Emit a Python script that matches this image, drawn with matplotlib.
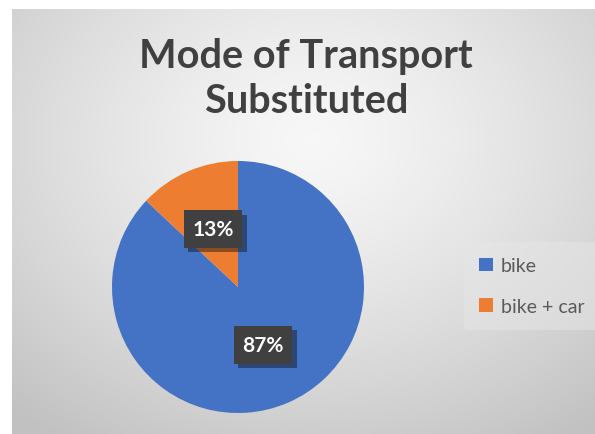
import numpy as np
import matplotlib.pyplot as plt
import matplotlib.patheffects as pe
from matplotlib.patches import Patch

labels = ['bike', 'bike + car']
values = [87, 13]
colors = ['#4472c4', '#ed7d31']
title = 'Mode of Transport\nSubstituted'

W, H = 595, 435
fig = plt.figure(figsize=(W / 100, H / 100), dpi=100)
fig.patch.set_facecolor('white')

# gradient background of the chart area
bg = fig.add_axes([12 / W, 0, (W - 12) / W, (H - 10) / H])
yy, xx = np.mgrid[0:425, 0:583]
d = np.sqrt(((xx - 300) / 420.0) ** 2 + ((yy - 130) / 330.0) ** 2)
shade = np.clip(0.97 - 0.19 * d ** 1.3, 0.76, 0.97)
bg.imshow(np.dstack([shade] * 3), aspect='auto', interpolation='bilinear')
bg.axis('off')

fig.text(306 / W, 1 - 79 / H, title, ha='center', va='center',
         fontsize=28.5, fontweight='bold', color='#404040',
         family='Lato', linespacing=1.25)

r = 126
cx, cy = 238, 288
ax = fig.add_axes([(cx - r) / W, 1 - (cy + r) / H, 2 * r / W, 2 * r / H])
ax.set_facecolor('none')
wedges, texts, autotexts = ax.pie(values, colors=colors, startangle=90,
                                  counterclock=False, autopct='%1.0f%%',
                                  pctdistance=0.5, radius=1,
                                  wedgeprops=dict(linewidth=0))
for t in autotexts:
    t.set_color('white')
    t.set_fontsize(15)
    t.set_fontweight('bold')
    t.set_family('Lato')
    t.set_bbox(dict(boxstyle='square,pad=0.42', facecolor='#404040',
                    edgecolor='none'))
    t.get_bbox_patch().set_path_effects(
        [pe.SimplePatchShadow(offset=(3, -3), alpha=0.45), pe.Normal()])
ax.set_xlim(-1, 1)
ax.set_ylim(-1, 1)
ax.axis('off')

handles = [Patch(facecolor=c, edgecolor='none') for c in colors]
leg = fig.legend(handles, labels, loc='center left',
                 bbox_to_anchor=(454 / W, 1 - 287 / H),
                 frameon=True, handlelength=0.7,
                 handleheight=0.7, handletextpad=0.4, labelspacing=1.2,
                 borderpad=0.8, prop={'family': 'Lato', 'size': 14})
leg.get_frame().set_facecolor('#e6e6e6')
leg.get_frame().set_edgecolor('none')
leg.get_frame().set_alpha(0.5)
for t in leg.get_texts():
    t.set_color('#595959')

fig.savefig('out.png', dpi=100)
